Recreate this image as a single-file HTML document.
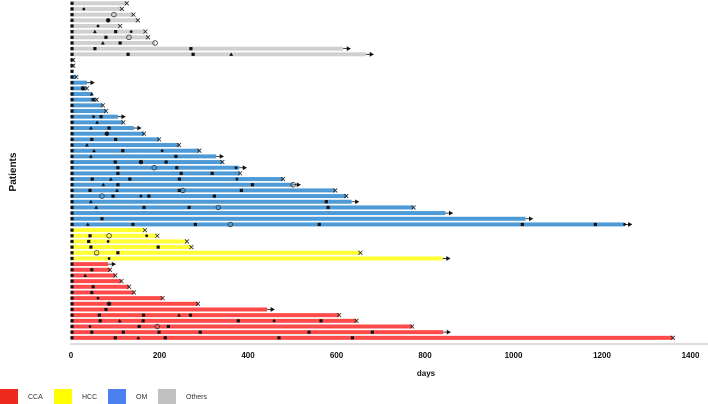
<!DOCTYPE html>
<html><head><meta charset="utf-8"><style>
body{margin:0;background:#fff;}
svg{display:block;font-family:"Liberation Sans",sans-serif;}
</style></head><body>
<svg id="chart" width="708" height="404" viewBox="0 0 708 404"></svg>
<script>
// group for each patient row (top to bottom)
const rowGroup = ["O","O","O","O","O","O","O","O","O","O","O","O","O",
"OM","OM","OM","OM","OM","OM","OM","OM","OM","OM","OM","OM","OM","OM","OM","OM","OM","OM","OM","OM","OM","OM","OM","OM","OM","OM","OM",
"H","H","H","H","H","H",
"C","C","C","C","C","C","C","C","C","C","C","C","C","C"];
// days of follow-up
const rowDays = [126,115,141,151,111,168,174,190,615,667,5,5,0,
12,36,36,48,58,72,79,106,118,142,165,199,244,290,328,342,380,382,479,502,597,622,634,774,846,1027,1251,
167,195,262,272,654,840,
84,88,100,114,131,142,207,287,443,606,645,771,841,1360];
// end marker: X = death, A = ongoing (arrow), C = open circle, N = none
const rowEnd = ["X","X","X","X","X","X","X","C","A","A","X","X","N",
"X","A","X","N","X","X","X","A","X","A","X","X","X","X","A","X","A","X","X","A","X","X","A","X","A","A","A",
"X","X","X","X","X","A",
"A","X","X","X","X","X","X","X","A","X","X","X","A","X"];
// events per row: [day, shape] s=square d=dot b=big dot t=triangle o=open circle
const rowEvents = [
[],[[29,"d"]],[[97,"o"]],[[84,"b"]],[[61,"d"]],[[54,"t"],[101,"s"],[136,"d"]],[[79,"s"],[131,"o"]],[[72,"t"],[111,"s"]],[[54,"s"],[271,"s"]],[[129,"s"],[276,"s"],[362,"t"]],[],[],[],
[],[],[[27,"b"]],[[47,"t"]],[[50,"s"]],[],[],[[51,"d"],[68,"s"]],[[59,"t"]],[[45,"t"],[86,"s"]],[[81,"b"]],[[47,"s"],[101,"s"]],
[[36,"t"]],[[52,"t"],[117,"s"],[206,"d"]],[[45,"t"],[237,"s"]],[[100,"s"],[158,"b"],[215,"s"]],[[106,"s"],[188,"o"],[239,"s"],[373,"d"]],[[106,"s"],[249,"s"],[319,"s"]],
[[48,"s"],[90,"t"],[133,"s"],[245,"s"],[375,"d"]],[[73,"t"],[106,"s"],[410,"s"],[502,"o"]],[[43,"s"],[104,"t"],[245,"s"],[253,"o"],[385,"s"]],[[70,"o"],[95,"s"],[158,"d"],[176,"s"],[324,"s"]],
[[45,"t"],[577,"s"]],[[57,"t"],[165,"s"],[267,"s"],[333,"o"],[581,"s"]],[],[[70,"s"]],[[38,"t"],[140,"s"],[281,"s"],[360,"o"],[561,"s"],[1020,"s"],[1185,"s"],[1251,"d"]],
[],[[43,"s"],[86,"o"],[171,"d"]],[[40,"s"],[84,"d"]],[[45,"s"],[197,"s"]],[[58,"o"],[106,"s"]],[[86,"d"]],
[],[[47,"s"]],[[32,"t"]],[],[[50,"s"]],[[47,"s"]],[[61,"d"]],[[86,"b"]],[[79,"s"]],[[64,"s"],[164,"s"],[244,"t"],[270,"s"]],
[[66,"s"],[110,"t"],[163,"s"],[378,"s"],[459,"d"],[565,"s"]],[[43,"d"],[154,"s"],[195,"o"],[220,"s"]],[[47,"s"],[118,"s"],[199,"s"],[292,"s"],[538,"s"],[681,"s"]],[[100,"s"],[152,"t"],[213,"s"],[470,"s"],[636,"s"]]
];
const xTicks = [0,200,400,600,800,1000,1200,1400];
const legendLabels = ["CCA","HCC","OM","Others"];

const colors = {C:"#ff4a4a",H:"#ffff33",OM:"#4d9ad6",O:"#d0d0d0"};
const svg = document.getElementById('chart');
const NS = "http://www.w3.org/2000/svg";
const x = d => 71 + d * 0.4425;
const y = i => 3.3 + i * 5.67;
function mk(tag, attrs, parent){const e=document.createElementNS(NS,tag);for(const k in attrs)e.setAttribute(k,attrs[k]);(parent||svg).appendChild(e);return e;}

// axis
const ax = mk('line',{x1:70,x2:708,y1:344,y2:344,stroke:"#bbb","stroke-width":1});


xTicks.forEach(t=>{
  const tx = mk('text',{x:x(t),y:358,"font-size":8,"font-weight":"bold","text-anchor":"middle",fill:"#111"});
  tx.textContent=t;
  
  
});
const xt = mk('text',{x:426,y:376,"font-size":8,"font-weight":"bold","text-anchor":"middle",fill:"#111"});
xt.textContent="days";


const yt = mk('text',{x:0,y:0,"font-size":10,"font-weight":"bold","text-anchor":"middle",fill:"#111",transform:"translate(16,172) rotate(-90)"});
yt.textContent="Patients";



function marker(shape, cx, cy){
  let e;
  if(shape==="s") e=mk('rect',{x:cx-1.6,y:cy-1.6,width:3.2,height:3.2,fill:"#111"});
  else if(shape==="d") e=mk('circle',{cx:cx,cy:cy,r:1.4,fill:"#111"});
  else if(shape==="b") e=mk('circle',{cx:cx,cy:cy,r:2.2,fill:"#111"});
  else if(shape==="t") e=mk('polygon',{points:`${cx},${cy-2} ${cx-1.9},${cy+1.5} ${cx+1.9},${cy+1.5}`,fill:"#111"});
  else if(shape==="o") e=mk('circle',{cx:cx,cy:cy,r:2.3,fill:"none",stroke:"#333","stroke-width":0.8});
  return e;
}

rowDays.forEach((d,i)=>{
  const cy = y(i);
  const bar = mk('rect',{x:71,y:cy-2,width:Math.max(0,x(d)-71),height:4,fill:colors[rowGroup[i]]});
  
  
  const st = marker("s",72,cy);
  
  
  rowEvents[i].forEach(ev=>{
    const m = marker(ev[1], x(ev[0]), cy);
    
    
  });
  const ex = x(d), end = rowEnd[i];
  if(end==="X"){
    const g = mk('path',{d:`M${ex-2},${cy-2}L${ex+2},${cy+2}M${ex-2},${cy+2}L${ex+2},${cy-2}`,stroke:"#222","stroke-width":0.8,fill:"none"});
    
    
  } else if(end==="A"){
    const g = mk('path',{d:`M${ex},${cy}L${ex+6},${cy}M${ex+4},${cy-1.7}L${ex+7},${cy}L${ex+4},${cy+1.7}Z`,stroke:"#111","stroke-width":0.8,fill:"#111"});
    
    
  } else if(end==="C"){
    const g = marker("o",ex,cy);
    
    
  }
});

// legend
const legX = [0,54,108,158];
const legC = ["#ee2a1e","#ffff00","#4a80f0","#c0c0c0"];
legendLabels.forEach((l,i)=>{
  const r = mk('rect',{x:legX[i],y:389,width:18,height:15,fill:legC[i]});
  
  
  const t = mk('text',{x:legX[i]+28,y:399,"font-size":7,fill:"#333"});
  t.textContent=l;
  
  
});
</script>
</body></html>
